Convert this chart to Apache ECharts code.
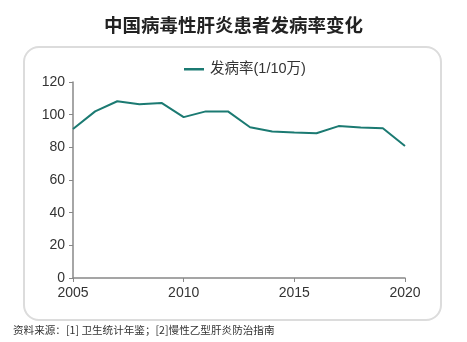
<!DOCTYPE html>
<html><head><meta charset="utf-8">
<script src="https://cdn.jsdelivr.net/npm/echarts@6/dist/echarts.min.js"></script>
<style>html,body{margin:0;padding:0;background:#fff}#c{width:467px;height:342px}</style>
</head><body><div id="c"></div>
<script>
const years = [2005,2006,2007,2008,2009,2010,2011,2012,2013,2014,2015,2016,2017,2018,2019,2020];
const incidence = [91.2,102.0,108.2,106.4,107.2,98.5,102.0,102.0,92.3,89.7,89.1,88.6,93.0,92.1,91.7,80.8];
const seriesName = '发病率(1/10万)';
const titleText = '中国病毒性肝炎患者发病率变化';
const sourceText = '资料来源：[1] 卫生统计年鉴；[2]慢性乙型肝炎防治指南';
const font = '"Noto Sans CJK SC", "Liberation Sans", sans-serif';
const chart = echarts.init(document.getElementById('c'), null, {renderer:'canvas'});
chart.setOption({
  animation:false,
  textStyle:{fontFamily:font},
  title:{text:titleText,left:'center',top:11,textStyle:{fontSize:18.5,fontWeight:'bold',color:'#222',fontFamily:font}},
  graphic:[
    {type:'rect',shape:{x:24,y:47,width:417,height:273,r:15},style:{fill:'none',stroke:'#dcdcdc',lineWidth:2},z:-1},
    {type:'text',left:13,top:325,style:{text:sourceText,fontSize:10.6,fill:'#333',fontFamily:font}}
  ],
  legend:{top:57,left:179,itemWidth:20,itemHeight:2.5,itemGap:10,icon:'rect',textStyle:{fontSize:14.5,color:'#333',padding:[0,0,0,1],fontFamily:'"Liberation Sans", "Noto Sans CJK SC", sans-serif'},data:[seriesName]},
  grid:{left:73,right:62,top:82,bottom:64},
  xAxis:{type:'value',min:2005,max:2020,interval:5,
    axisLine:{lineStyle:{color:'#888',width:1.5}},
    axisTick:{show:true,length:4,lineStyle:{color:'#888'}},
    axisLabel:{fontSize:14,color:'#333',margin:8,fontFamily:'"Liberation Sans", sans-serif',formatter:v=>String(v)},
    splitLine:{show:false}},
  yAxis:{type:'value',min:0,max:120,interval:20,
    axisLine:{show:true,lineStyle:{color:'#888',width:1.5}},
    axisTick:{show:true,length:4,lineStyle:{color:'#888'}},
    axisLabel:{fontSize:14,color:'#333',margin:8,fontFamily:'"Liberation Sans", sans-serif'},
    splitLine:{show:false}},
  series:[{name:seriesName,type:'line',data:years.map((y,i)=>[y,incidence[i]]),
    symbol:'none',lineStyle:{color:'#1b7a72',width:2},itemStyle:{color:'#1b7a72'}}]
});
</script></body></html>
